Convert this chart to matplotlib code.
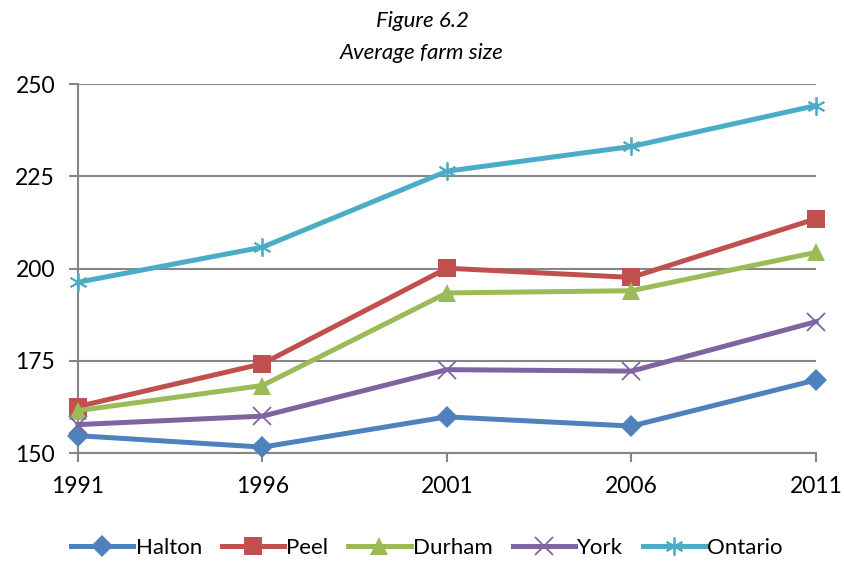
import numpy as np
import matplotlib.pyplot as plt

years = [1991, 1996, 2001, 2006, 2011]
halton = [154.7, 151.6, 159.8, 157.3, 169.8]
peel = [162.6, 174.2, 200.1, 197.6, 213.5]
durham = [161.5, 168.3, 193.4, 194.0, 204.4]
york = [157.7, 160.0, 172.6, 172.2, 185.6]
ontario = [196.3, 205.8, 226.4, 233.1, 244.2]

names = ["Halton", "Peel", "Durham", "York", "Ontario"]
colors = ["#4F81BD", "#C0504D", "#9BBB59", "#8064A2", "#4BACC6"]
markers = ["D", "s", "^", "x", "*"]

plt.rcParams['font.family'] = ['Lato', 'DejaVu Sans']

fig = plt.figure(figsize=(8.44, 5.61), dpi=100)
ax = fig.add_axes([0.0924, 0.1925, 0.8744, 0.6575])

series = [halton, peel, durham, york, ontario]
for name, vals, c, m in zip(names, series, colors, markers):
    if m in ("x", "*"):
        # thin cross / asterisk markers like Excel
        mk = "x" if m == "x" else (6, 2, 0)
        ax.plot(years, vals, color=c, linewidth=3.6, marker=mk, markersize=13,
                markeredgewidth=1.3, markerfacecolor=c, markeredgecolor=c,
                label=name, clip_on=False, zorder=3)
    else:
        size = {"D": 11, "s": 13, "^": 13}[m]
        ax.plot(years, vals, color=c, linewidth=3.6, marker=m, markersize=size,
                markeredgewidth=0, label=name, clip_on=False, zorder=3)

ax.set_xlim(1991, 2011)
ax.set_ylim(150, 250)
ax.set_yticks([150, 175, 200, 225, 250])
ax.set_xticks(years)
ax.grid(axis='y', color='#868686', linewidth=1.5)
ax.set_axisbelow(True)
for s in ['top', 'right']:
    ax.spines[s].set_visible(False)
for s in ['left', 'bottom']:
    ax.spines[s].set_color('#868686')
    ax.spines[s].set_linewidth(1.5)
ax.tick_params(axis='both', colors='#868686', width=1.5, length=6.5, labelsize=16.5, labelcolor='black')
ax.tick_params(axis='y', pad=10)
ax.tick_params(axis='x', pad=10)

fig.text(0.5, 0.962, "Figure 6.2", ha='center', va='center', fontsize=16, style='italic')
fig.text(0.5, 0.906, "Average farm size", ha='center', va='center', fontsize=16, style='italic')

fig.legend(loc='center', bbox_to_anchor=(0.506, 0.024), ncol=5, frameon=False,
           fontsize=16, handlelength=2.8, handletextpad=0.1, columnspacing=0.9)

fig.savefig("out.png", dpi=100)
